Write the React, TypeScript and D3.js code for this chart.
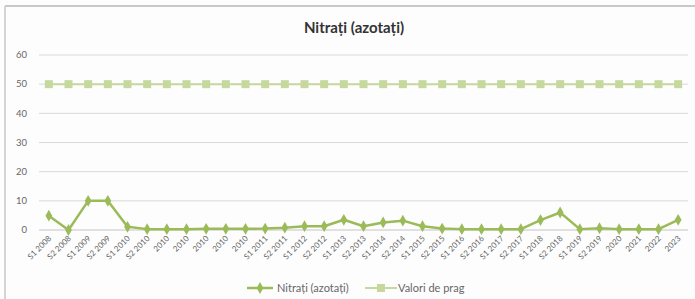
import { useEffect, useRef } from 'react'
import * as d3 from 'd3'

const categories = [
  'S1 2008', 'S2 2008', 'S1 2009', 'S2 2009', 'S1 2010', 'S2 2010',
  '2010', '2010', '2010', '2010', '2010',
  'S1 2011', 'S2 2011', 'S1 2012', 'S2 2012', 'S1 2013', 'S2 2013',
  'S1 2014', 'S2 2014', 'S1 2015', 'S2 2015', 'S1 2016', 'S2 2016',
  'S1 2017', 'S2 2017', 'S1 2018', 'S2 2018', 'S1 2019', 'S2 2019',
  '2020', '2021', '2022', '2023',
]

const nitratiValues = [
  4.9, 0, 10, 10, 1.1, 0.3,
  0.3, 0.3, 0.4, 0.4, 0.4,
  0.5, 0.8, 1.3, 1.3, 3.5, 1.3,
  2.6, 3.2, 1.3, 0.5, 0.3, 0.3,
  0.3, 0.3, 3.4, 6, 0.3, 0.6,
  0.3, 0.3, 0.3, 3.5,
]

const pragValues = categories.map(() => 50)

const yTicks = [0, 10, 20, 30, 40, 50, 60]

const NITRATI_COLOR = '#9bbb59'
const PRAG_COLOR = '#c6d89e'
const FONT = 'Lato, "Open Sans", sans-serif'

export default function App() {
  const svgRef = useRef<SVGSVGElement>(null)

  useEffect(() => {
    if (!svgRef.current) return
    const width = 695
    const height = 299
    const margin = { top: 55, right: 7, bottom: 69, left: 39 }
    const plotWidth = width - margin.left - margin.right
    const plotHeight = height - margin.top - margin.bottom

    const svg = d3.select(svgRef.current)
    svg.selectAll('*').remove()

    svg.append('rect').attr('width', width).attr('height', height).attr('fill', '#fdfdfd')

    // outer frame of the chart area
    svg.append('line').attr('x1', 5).attr('x2', width).attr('y1', 6).attr('y2', 6)
      .attr('stroke', '#c8c8c8').attr('stroke-width', 2)
    svg.append('line').attr('x1', 5).attr('x2', 5).attr('y1', 6).attr('y2', height)
      .attr('stroke', '#d4d4d4').attr('stroke-width', 2)

    const x = d3.scaleBand().domain(categories.map((_, i) => String(i))).range([0, plotWidth])
    const y = d3.scaleLinear().domain([0, 60]).range([plotHeight, 0])
    const cx = (i: number) => (x(String(i)) as number) + x.bandwidth() / 2

    const g = svg.append('g').attr('transform', `translate(${margin.left},${margin.top})`)

    // gridlines
    g.selectAll('.grid')
      .data(yTicks.filter((t) => t > 0))
      .join('line')
      .attr('x1', 0).attr('x2', plotWidth)
      .attr('y1', (d) => y(d)).attr('y2', (d) => y(d))
      .attr('stroke', '#d9d9d9').attr('stroke-width', 1)

    g.append('line').attr('x1', 0).attr('x2', plotWidth)
      .attr('y1', y(0)).attr('y2', y(0))
      .attr('stroke', '#c4c4c4').attr('stroke-width', 1)

    // y tick labels
    g.selectAll('.ytick')
      .data(yTicks)
      .join('text')
      .attr('x', -12).attr('y', (d) => y(d)).attr('dy', '0.35em')
      .attr('text-anchor', 'end')
      .attr('font-family', FONT).attr('font-size', 9.5).attr('fill', '#666')
      .text((d) => d)

    // x labels
    g.selectAll('.xtick')
      .data(categories)
      .join('text')
      .attr('transform', (_, i) => `translate(${cx(i) + 3},${plotHeight + 9}) rotate(-45)`)
      .attr('text-anchor', 'end')
      .attr('font-family', FONT).attr('font-size', 8).attr('fill', '#666')
      .text((d) => d)

    // threshold series
    const line = d3.line<number>().x((_, i) => cx(i)).y((d) => y(d))
    g.append('path').datum(pragValues).attr('d', line)
      .attr('fill', 'none').attr('stroke', PRAG_COLOR).attr('stroke-width', 2)
    g.selectAll('.prag')
      .data(pragValues)
      .join('rect')
      .attr('x', (_, i) => cx(i) - 4).attr('y', (d) => y(d) - 4)
      .attr('width', 8).attr('height', 8)
      .attr('fill', PRAG_COLOR)

    // nitrati series
    g.append('path').datum(nitratiValues).attr('d', line)
      .attr('fill', 'none').attr('stroke', NITRATI_COLOR).attr('stroke-width', 2.5)
      .attr('stroke-linejoin', 'round')
    const diamond = d3.symbol().type(d3.symbolDiamond).size(40)
    g.selectAll('.nit')
      .data(nitratiValues)
      .join('path')
      .attr('d', diamond)
      .attr('transform', (d, i) => `translate(${cx(i)},${y(d)})`)
      .attr('fill', NITRATI_COLOR)

    // title
    svg.append('text')
      .attr('x', 354).attr('y', 33)
      .attr('text-anchor', 'middle')
      .attr('font-family', FONT).attr('font-size', 15).attr('font-weight', 'bold')
      .attr('fill', '#333')
      .text('Nitrați (azotați)')

    // legend
    const legend = svg.append('g').attr('transform', 'translate(247,288)')
    legend.append('line').attr('x1', 0).attr('x2', 26).attr('y1', 0).attr('y2', 0)
      .attr('stroke', NITRATI_COLOR).attr('stroke-width', 2.5)
    legend.append('path').attr('d', diamond).attr('transform', 'translate(13,0)').attr('fill', NITRATI_COLOR)
    legend.append('text').attr('x', 30).attr('y', 0).attr('dy', '0.35em')
      .attr('font-family', FONT).attr('font-size', 11).attr('fill', '#666')
      .text('Nitrați (azotați)')
    legend.append('line').attr('x1', 118).attr('x2', 150).attr('y1', 0).attr('y2', 0)
      .attr('stroke', PRAG_COLOR).attr('stroke-width', 2)
    legend.append('rect').attr('x', 130).attr('y', -4).attr('width', 8).attr('height', 8).attr('fill', PRAG_COLOR)
    legend.append('text').attr('x', 151).attr('y', 0).attr('dy', '0.35em')
      .attr('font-family', FONT).attr('font-size', 11).attr('fill', '#666')
      .text('Valori de prag')
  }, [])

  return (
    <svg
      ref={svgRef}
      width={695}
      height={299}
      style={{ position: 'absolute', top: 0, left: 0, display: 'block' }}
    />
  )
}
